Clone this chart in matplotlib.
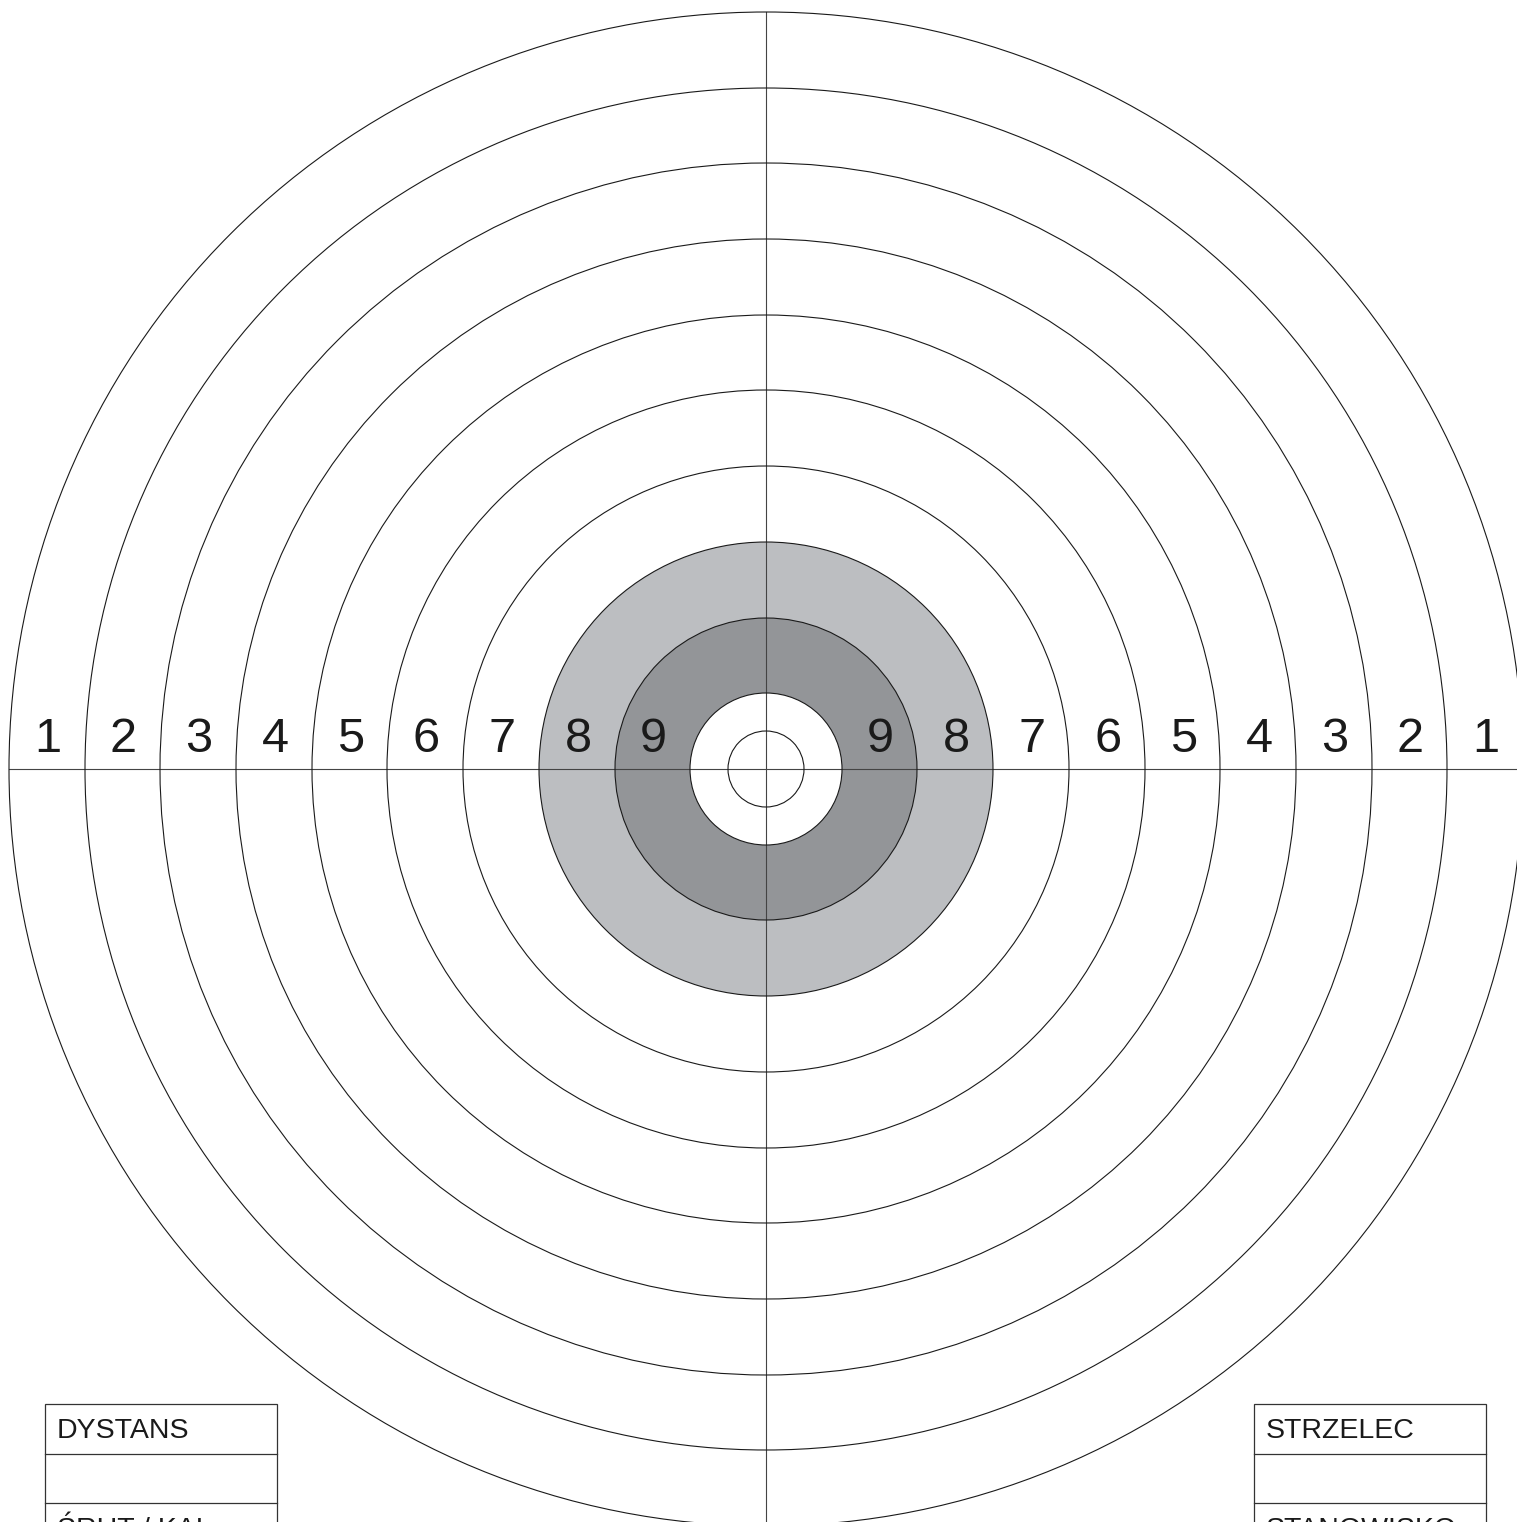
import matplotlib.pyplot as plt
from matplotlib.patches import Circle, Rectangle

plt.rcParams['font.family'] = ['Liberation Sans', 'DejaVu Sans']

W, H = 1517, 1522
cx, cy = 766, 769

# ring radii (px), outer to inner
ring_radii = [757, 681, 606, 530, 454, 379, 303, 227, 151, 76, 38]
# score labels for each band, outer to inner
scores = ["1", "2", "3", "4", "5", "6", "7", "8", "9"]
# filled discs: (radius, colour), drawn big to small
fills = [(227, "#bcbec1"), (151, "#939598"), (76, "#ffffff")]

box_left = ["DYSTANS", "", "ŚRUT / KAL."]
box_right = ["STRZELEC", "", "STANOWISKO"]

fig = plt.figure(figsize=(W / 100, H / 100), dpi=100)
ax = fig.add_axes([0, 0, 1, 1])
ax.set_xlim(0, W)
ax.set_ylim(H, 0)
ax.set_aspect('equal')
ax.axis('off')

for r, col in fills:
    ax.add_patch(Circle((cx, cy), r, facecolor=col, edgecolor='none', zorder=1))

for r in ring_radii:
    ax.add_patch(Circle((cx, cy), r, facecolor='none', edgecolor='#1a1a1a', lw=0.8, zorder=3))

# cross hair
ax.plot([cx, cx], [cy - ring_radii[0], H], color='#444444', lw=0.8, zorder=2)
ax.plot([cx - ring_radii[0], W], [cy, cy], color='#444444', lw=0.8, zorder=2)

# score numbers in the middle of each band, both sides
for i, s in enumerate(scores):
    mid = (ring_radii[i] + ring_radii[i + 1]) / 2
    for side in (-1, 1):
        ax.text(cx + side * mid + 1, cy - 30, s, fontsize=35, color='#1a1a1a',
                ha='center', va='center', zorder=4)

# info boxes (bottom row runs off the sheet)
row_h = 49.5
for x0, labels in ((45, box_left), (1254, box_right)):
    bw = 232
    ax.add_patch(Rectangle((x0, 1404), bw, 200, facecolor='white',
                           edgecolor='#333333', lw=0.9, zorder=5))
    for k in range(1, 3):
        ax.plot([x0, x0 + bw], [1404 + k * row_h] * 2, color='#333333', lw=0.9, zorder=6)
    for k, lab in enumerate(labels):
        if lab:
            ax.text(x0 + 12, 1404 + k * row_h + row_h / 2 + 2, lab, fontsize=20.5,
                    color='#1a1a1a', ha='left', va='center', zorder=7)

fig.savefig('out.png', dpi=100)
